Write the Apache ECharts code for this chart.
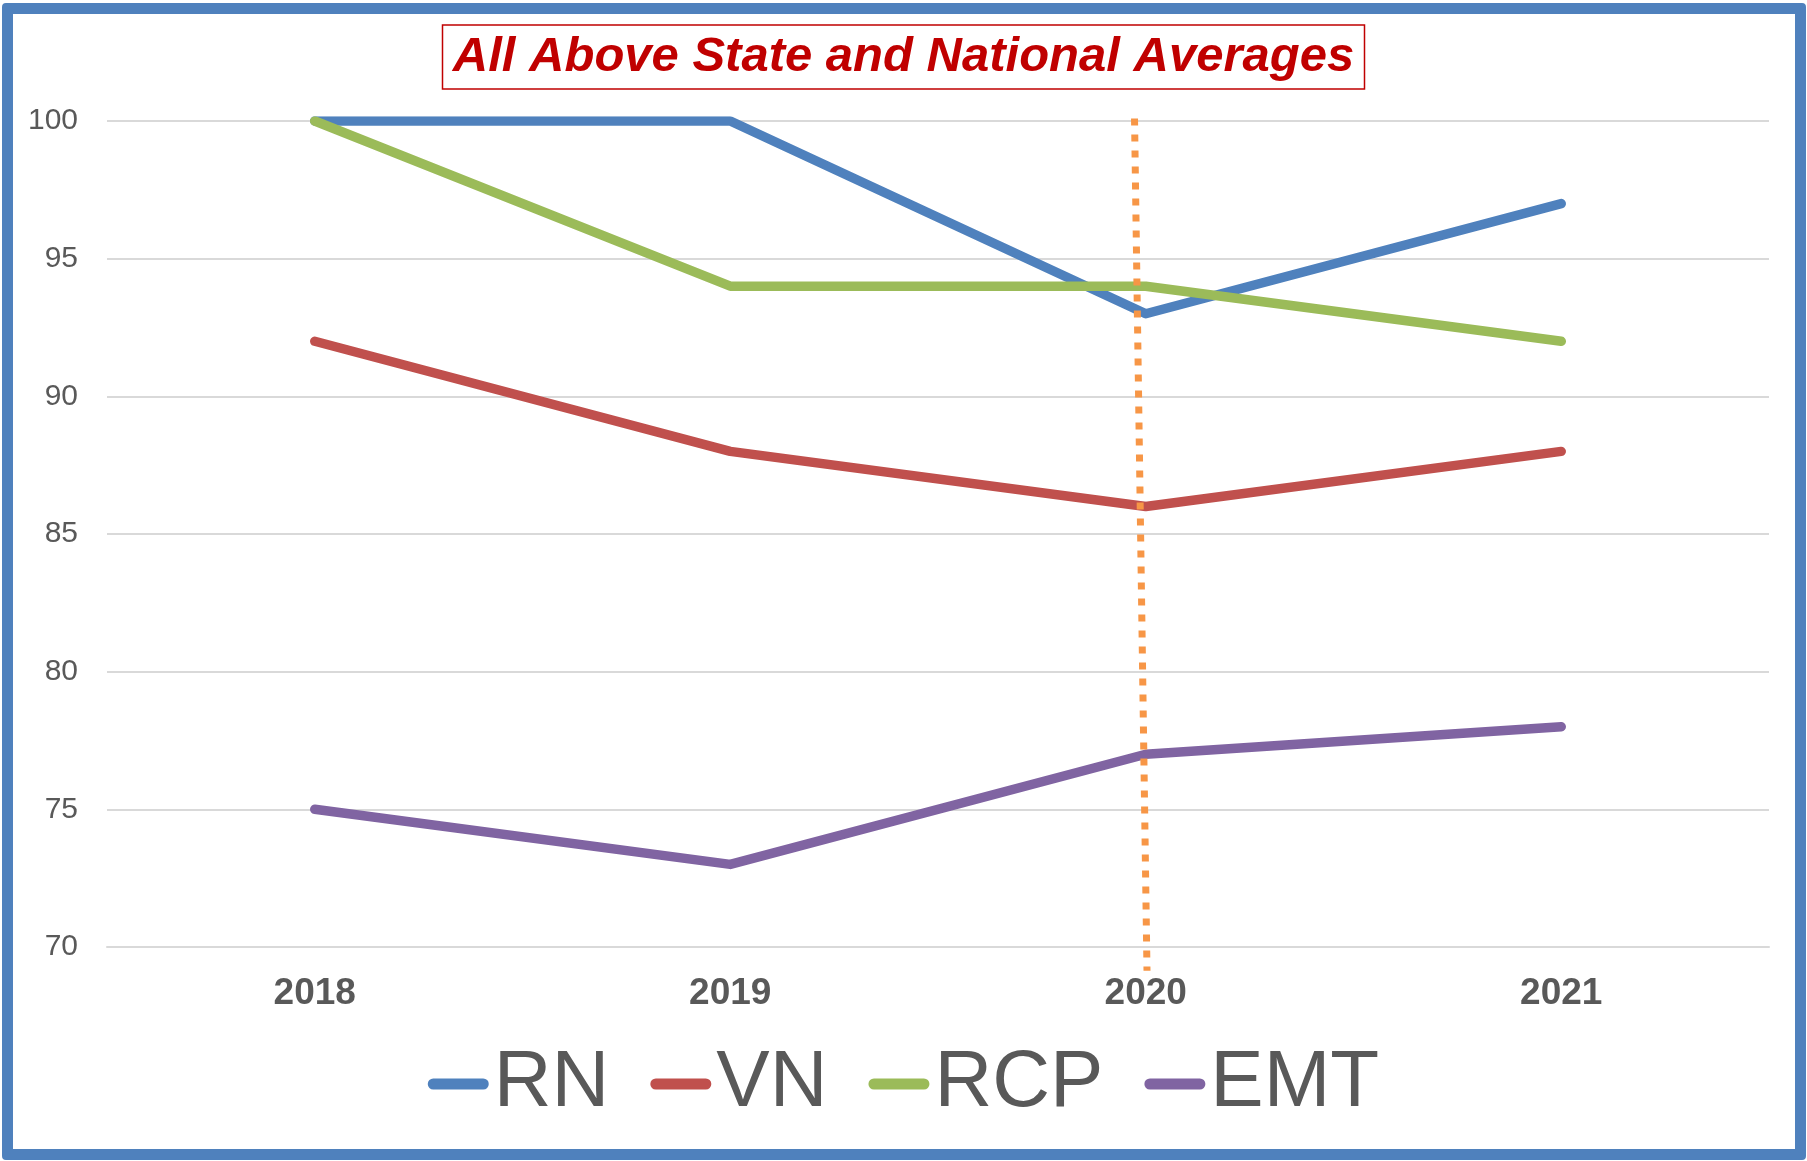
<!DOCTYPE html>
<html>
<head>
<meta charset="utf-8">
<script src="https://cdn.jsdelivr.net/npm/echarts@6/dist/echarts.min.js"></script>
<style>
  html, body { margin: 0; padding: 0; background: #fff; }
  #wrap { position: relative; width: 1807px; height: 1161px; }
  #chart { position: absolute; left: 0; top: 0; width: 1807px; height: 1161px; }
  #frame { position: absolute; left: 2px; top: 3px; width: 1804px; height: 1157px;
           box-sizing: border-box; border: 11px solid #4F81BD; border-radius: 4px; pointer-events: none; }
</style>
</head>
<body>
<div id="wrap"><div id="chart"></div><div id="frame"></div></div>
<script>
const categories = ['2018', '2019', '2020', '2021'];
const seriesNames = ['RN', 'VN', 'RCP', 'EMT'];
const rnValues = [100, 100, 93, 97];
const vnValues = [92, 88, 86, 88];
const rcpValues = [100, 94, 94, 92];
const emtValues = [75, 73, 77, 78];
const yMin = 70, yMax = 100, yStep = 5;
// dotted annotation line, in data space (band position on a 0..4 scale, value)
const dividerPoints = [[2.473, 100.09], [2.503, 69.14]];
const titleText = 'All Above State and National Averages';

const colors = ['#4F81BD', '#C0504D', '#9BBB59', '#8064A2'];
const valuesList = [rnValues, vnValues, rcpValues, emtValues];

const chart = echarts.init(document.getElementById('chart'));
const pill = 'path://M5.5,0H55.5A5.5,5.5,0,0,1,55.5,11H5.5A5.5,5.5,0,0,1,5.5,0Z';

const series = seriesNames.map((name, i) => ({
  name: name,
  type: 'line',
  data: valuesList[i],
  symbol: 'none',
  lineStyle: { color: colors[i], width: 9.5, cap: 'round', join: 'round' },
  itemStyle: { color: colors[i] },
  z: 2 + i
}));
series.push({
  name: 'divider',
  type: 'line',
  xAxisIndex: 1,
  data: dividerPoints,
  symbol: 'none',
  clip: false,
  silent: true,
  lineStyle: { color: '#F79646', width: 7, type: [7, 9], cap: 'butt' },
  z: 10
});

chart.setOption({
  animation: false,
  backgroundColor: '#ffffff',
  title: {
    text: titleText,
    left: 'center',
    top: 25,
    padding: [4, 11, 4, 11],
    backgroundColor: '#ffffff',
    borderColor: '#C00000',
    borderWidth: 1.5,
    textStyle: {
      fontFamily: 'Liberation Sans, Arial, sans-serif',
      fontSize: 49,
      fontWeight: 'bold',
      fontStyle: 'italic',
      color: '#C00000',
      lineHeight: 56
    }
  },
  legend: {
    data: seriesNames,
    bottom: 32,
    left: 'center',
    itemWidth: 61,
    itemHeight: 11,
    itemGap: 41,
    icon: pill,
    textStyle: {
      fontFamily: 'Liberation Sans, Arial, sans-serif',
      fontSize: 80,
      color: '#595959',
      lineHeight: 80
    }
  },
  grid: { left: 107, right: 38, top: 121, bottom: 214 },
  xAxis: [{
    type: 'category',
    data: categories,
    boundaryGap: true,
    axisLine: { show: true, lineStyle: { color: '#D9D9D9', width: 2 } },
    axisTick: { show: false },
    axisLabel: {
      margin: 28,
      fontFamily: 'Liberation Sans, Arial, sans-serif',
      fontSize: 37,
      fontWeight: 'bold',
      color: '#595959'
    }
  }, {
    type: 'value',
    min: 0,
    max: 4,
    show: false
  }],
  yAxis: {
    type: 'value',
    min: yMin,
    max: yMax,
    interval: yStep,
    axisLine: { show: false },
    axisTick: { show: false },
    splitLine: { lineStyle: { color: '#D9D9D9', width: 2 } },
    axisLabel: {
      margin: 29,
      fontFamily: 'Liberation Sans, Arial, sans-serif',
      fontSize: 30,
      color: '#595959'
    }
  },
  series: series
});
</script>
</body>
</html>
